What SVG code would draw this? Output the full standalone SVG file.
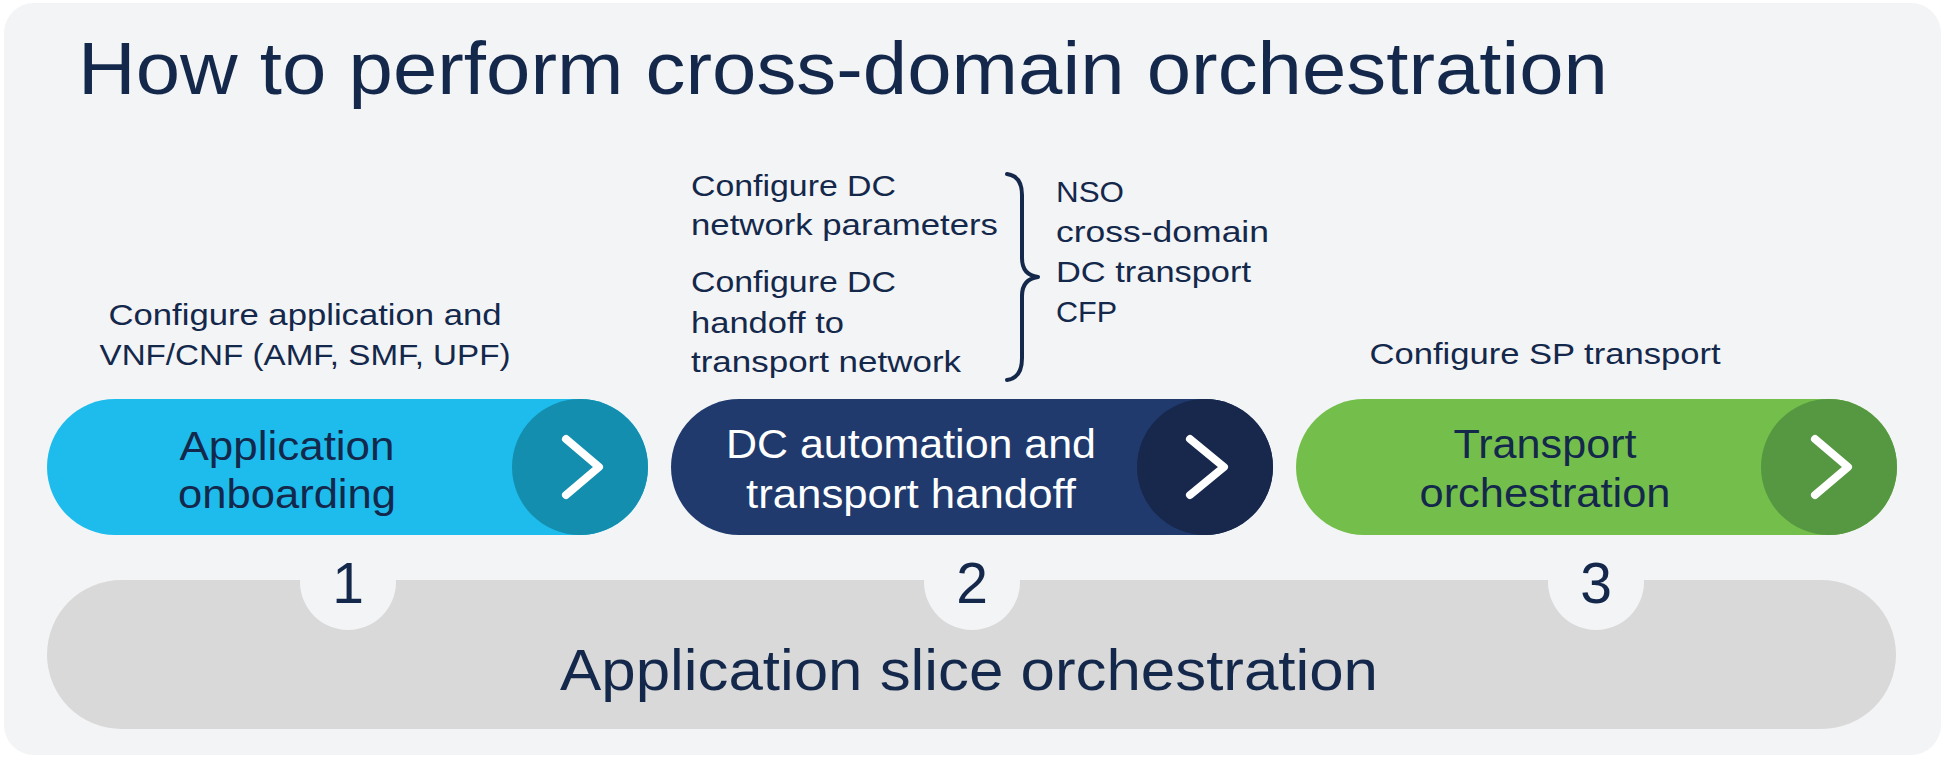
<svg xmlns="http://www.w3.org/2000/svg" width="1944" height="759" viewBox="0 0 1944 759">
<style>
text{font-family:"Liberation Sans",Arial,sans-serif;fill:#14284B}
.lbl{font-size:29px}
.pt{font-size:41px;text-anchor:middle}
.wt{fill:#FFFFFF}
.num{font-size:57px;text-anchor:middle}
.chev{fill:none;stroke:#FFFFFF;stroke-width:8;stroke-linecap:round;stroke-linejoin:round}
</style>
<rect x="0" y="0" width="1944" height="759" fill="#FFFFFF"/>
<rect id="panel" x="4" y="3" width="1937" height="752" rx="30" fill="#F3F4F6"/>
<text id="title" x="78" y="94" font-size="75" textLength="1530" lengthAdjust="spacingAndGlyphs">How to perform cross-domain orchestration</text>

<g id="slice">
<rect x="47" y="580" width="1849" height="149" rx="74.5" fill="#D9D9D9"/>
<circle cx="348" cy="582" r="48" fill="#F3F4F6"/>
<circle cx="972" cy="582" r="48" fill="#F3F4F6"/>
<circle cx="1596" cy="582" r="48" fill="#F3F4F6"/>
<text class="num" x="348" y="603">1</text>
<text class="num" x="972" y="603">2</text>
<text class="num" x="1596" y="603">3</text>
<text x="969" y="690" font-size="58" text-anchor="middle" textLength="818" lengthAdjust="spacingAndGlyphs">Application slice orchestration</text>
</g>

<g id="step1">
<text class="lbl" x="305" y="325" text-anchor="middle" textLength="393" lengthAdjust="spacingAndGlyphs">Configure application and</text>
<text class="lbl" x="305" y="365" text-anchor="middle" textLength="411" lengthAdjust="spacingAndGlyphs">VNF/CNF (AMF, SMF, UPF)</text>
<rect x="47" y="399" width="601" height="136" rx="68" fill="#1EBCEC"/>
<circle cx="580" cy="467" r="68" fill="#148EAE"/>
<polyline class="chev" points="566,439 599,467 566,495"/>
<text class="pt" x="287" y="460" textLength="215" lengthAdjust="spacingAndGlyphs">Application</text>
<text class="pt" x="287" y="508" textLength="218" lengthAdjust="spacingAndGlyphs">onboarding</text>
</g>

<g id="step2">
<text class="lbl" x="691" y="196" textLength="205" lengthAdjust="spacingAndGlyphs">Configure DC</text>
<text class="lbl" x="691" y="235" textLength="307" lengthAdjust="spacingAndGlyphs">network parameters</text>
<text class="lbl" x="691" y="292" textLength="205" lengthAdjust="spacingAndGlyphs">Configure DC</text>
<text class="lbl" x="691" y="333" textLength="153" lengthAdjust="spacingAndGlyphs">handoff to</text>
<text class="lbl" x="691" y="372" textLength="270" lengthAdjust="spacingAndGlyphs">transport network</text>
<text class="lbl" x="1056" y="202" textLength="68" lengthAdjust="spacingAndGlyphs">NSO</text>
<text class="lbl" x="1056" y="242" textLength="213" lengthAdjust="spacingAndGlyphs">cross-domain</text>
<text class="lbl" x="1056" y="282" textLength="195" lengthAdjust="spacingAndGlyphs">DC transport</text>
<text class="lbl" x="1056" y="322" textLength="61" lengthAdjust="spacingAndGlyphs">CFP</text>
<rect x="671" y="399" width="602" height="136" rx="68" fill="#203A6E"/>
<circle cx="1205" cy="467" r="68" fill="#17284C"/>
<polyline class="chev" points="1190,439 1224,467 1190,495"/>
<text class="pt wt" x="911" y="458" textLength="370" lengthAdjust="spacingAndGlyphs">DC automation and</text>
<text class="pt wt" x="911" y="508" textLength="330" lengthAdjust="spacingAndGlyphs">transport handoff</text>
</g>

<g id="step3">
<text class="lbl" x="1545" y="364" text-anchor="middle" textLength="351" lengthAdjust="spacingAndGlyphs">Configure SP transport</text>
<rect x="1296" y="399" width="601" height="136" rx="68" fill="#74BF4B"/>
<circle cx="1829" cy="467" r="68" fill="#559841"/>
<polyline class="chev" points="1815,439 1848,467 1815,495"/>
<text class="pt" x="1545" y="458" textLength="183" lengthAdjust="spacingAndGlyphs">Transport</text>
<text class="pt" x="1545" y="507" textLength="251" lengthAdjust="spacingAndGlyphs">orchestration</text>
</g>

<g id="connectors">
<path d="M1007,174 Q1022,176 1022,195 L1022,258 Q1022,275 1038,277 Q1022,279 1022,296 L1022,358 Q1022,378 1007,380" fill="none" stroke="#14284B" stroke-width="4" stroke-linecap="round" stroke-linejoin="round"/>
</g>
</svg>
